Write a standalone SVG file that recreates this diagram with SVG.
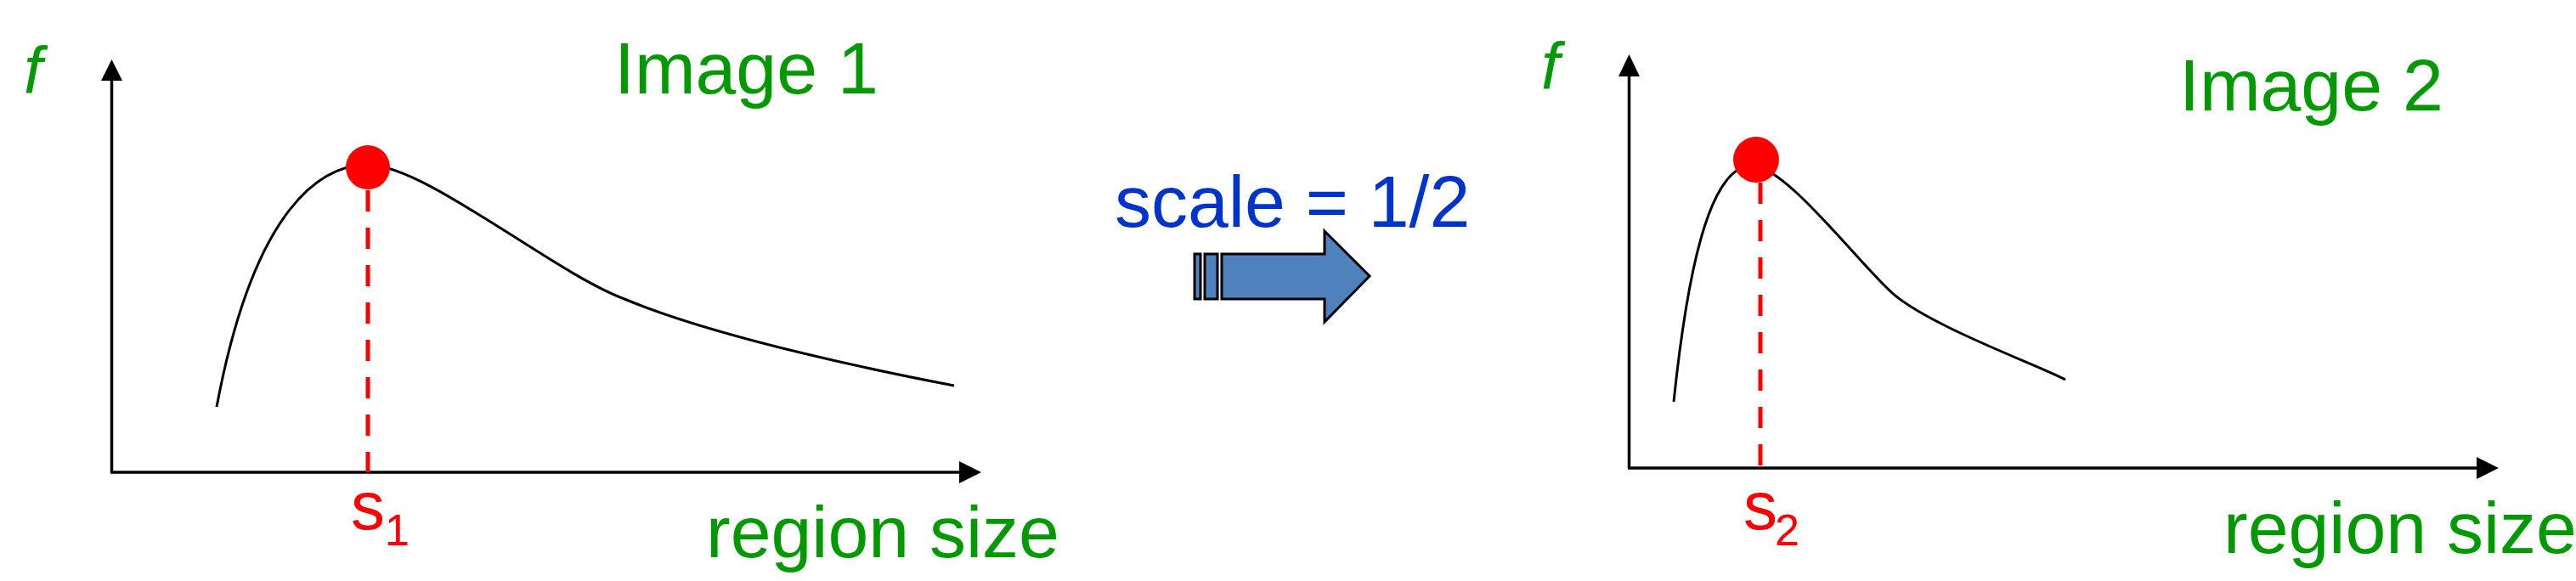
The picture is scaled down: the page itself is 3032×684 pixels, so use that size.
<svg xmlns="http://www.w3.org/2000/svg" width="3032" height="684" viewBox="0 0 3032 684">
<style>
.lbl{font-family:"Liberation Sans",Arial,sans-serif;fill:#009900;font-size:86px}
.it{font-family:"Liberation Sans",Arial,sans-serif;fill:#009900;font-size:78px;font-style:italic}
.red{font-family:"Liberation Sans",Arial,sans-serif;fill:#FF0000;font-size:80px}
.blue{font-family:"Liberation Sans",Arial,sans-serif;fill:#0033CC;font-size:86px}
.axis{stroke:#000;stroke-width:3.5;fill:none}
.curve{stroke:#000;stroke-width:3;fill:none}
.dash{stroke:#FF0000;stroke-width:5;stroke-dasharray:25 19;fill:none}
.dot{fill:#FF0000}
.ah{fill:#000}
</style>
<rect width="3032" height="684" fill="#fff"/>
<g id="graph1">
  <g id="axes1">
    <line class="axis" x1="131.5" y1="556" x2="131.5" y2="92"/>
    <polygon class="ah" points="131.5,70 119,95 144,95"/>
    <line class="axis" x1="130" y1="556" x2="1130" y2="556"/>
    <polygon class="ah" points="1155,556 1129,543 1129,569"/>
  </g>
  <path id="curve1" class="curve" d="M255,479 C300,240 380,194 433,194 C500,194 650,320 735,352 C850,400 1050,440 1123,454"/>
  <line id="dash1" class="dash" x1="433" y1="224" x2="433" y2="556"/>
  <circle id="peak1" class="dot" cx="433" cy="197" r="26"/>
  <text class="it" x="28" y="110">f</text>
  <text class="lbl" x="723" y="110">Image 1</text>
  <text class="lbl" x="831" y="656">region size</text>
  <text class="red" x="413" y="623">s<tspan x="453" y="642" font-size="52">1</tspan></text>
</g>
<g id="connector">
  <g id="scale-arrow" fill="#4F81BD" stroke="#000" stroke-width="3" stroke-linejoin="miter">
    <rect x="1406" y="299" width="7" height="53"/>
    <rect x="1418" y="299" width="15" height="53"/>
    <polygon points="1438,299 1559,299 1559,272 1612,325 1559,379 1559,352 1438,352"/>
  </g>
  <text class="blue" x="1312" y="267">scale = 1/2</text>
</g>
<g id="graph2">
  <g id="axes2">
    <line class="axis" x1="1917.5" y1="551" x2="1917.5" y2="87"/>
    <polygon class="ah" points="1917.5,64 1905,90 1930,90"/>
    <line class="axis" x1="1916" y1="551" x2="2916" y2="551"/>
    <polygon class="ah" points="2941,551 2915,538 2915,564"/>
  </g>
  <path id="curve2" class="curve" d="M1970,473 C1985,330 2010,195 2062,195 C2100,195 2180,300 2222,340 C2260,380 2400,430 2431,447"/>
  <line id="dash2" class="dash" x1="2072" y1="215" x2="2072" y2="556"/>
  <circle id="peak2" class="dot" cx="2067" cy="188" r="27"/>
  <text class="it" x="1814" y="105">f</text>
  <text class="lbl" x="2565" y="130">Image 2</text>
  <text class="lbl" x="2617" y="651">region size</text>
  <text class="red" x="2052" y="623">s<tspan x="2089" y="642" font-size="52">2</tspan></text>
</g>
</svg>
